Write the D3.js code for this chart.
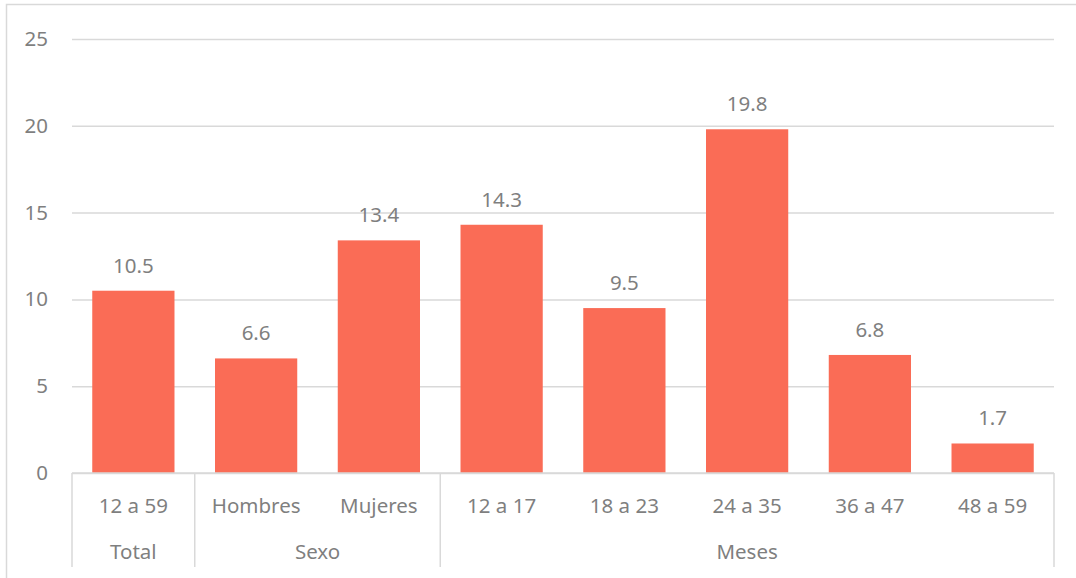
<!DOCTYPE html>
<html>
<head>
<meta charset="utf-8">
<script src="https://cdn.jsdelivr.net/npm/d3@7"></script>
<style>
  body { margin: 0; background: #fff; }
  text { font-family: "Noto Sans", sans-serif; fill: #7f7f7f; }
</style>
</head>
<body>
<div id="chart"></div>
<script>
const categories = ['12 a 59', 'Hombres', 'Mujeres', '12 a 17', '18 a 23', '24 a 35', '36 a 47', '48 a 59'];
const groupOf = ['Total', 'Sexo', 'Sexo', 'Meses', 'Meses', 'Meses', 'Meses', 'Meses'];
const values = [10.5, 6.6, 13.4, 14.3, 9.5, 19.8, 6.8, 1.7];
const yTicks = [0, 5, 10, 15, 20, 25];

const W = 1076, H = 578;
const MARGIN = {TOP: 39, LEFT: 72, RIGHT: 22, BOTTOM: 105};
const innerW = W - MARGIN.LEFT - MARGIN.RIGHT;
const innerH = H - MARGIN.TOP - MARGIN.BOTTOM;
const FS = '20.5px';

const svg = d3.select('#chart').append('svg')
    .attr('width', W).attr('height', H);

// chart frame (clipped at right/bottom in the original)
svg.append('path')
    .attr('d', `M6.5,${H} V4.5 H${W}`)
    .attr('fill', 'none').attr('stroke', '#d9d9d9').attr('stroke-width', 1.5);

const g = svg.append('g').attr('transform', `translate(${MARGIN.LEFT},${MARGIN.TOP})`);

const x = d3.scaleBand().domain(categories).range([0, innerW]).paddingInner(0.33).paddingOuter(0.165);
const y = d3.scaleLinear().domain([0, 25]).range([innerH, 0]);

// gridlines + y labels
const yAxis = g.append('g').call(d3.axisLeft(y).tickValues(yTicks).tickSize(-innerW).tickPadding(24));
yAxis.select('.domain').remove();
yAxis.selectAll('line').attr('stroke', '#d9d9d9').attr('stroke-width', 1.5);
yAxis.selectAll('text').style('font-size', FS).attr('fill', '#7f7f7f');

// bars
const data = categories.map((c, i) => ({cat: c, val: values[i]}));
g.selectAll('rect.bar').data(data).enter().append('rect')
    .attr('class', 'bar')
    .attr('x', d => x(d.cat))
    .attr('y', d => y(d.val))
    .attr('width', x.bandwidth())
    .attr('height', d => innerH - y(d.val))
    .attr('fill', '#fa6c56');

g.selectAll('text.val').data(data).enter().append('text')
    .attr('class', 'val')
    .attr('x', d => x(d.cat) + x.bandwidth() / 2)
    .attr('y', d => y(d.val) - 18)
    .attr('text-anchor', 'middle')
    .style('font-size', FS)
    .text(d => d.val.toFixed(1));

// multi-level category axis
const step = x.step();
const axisG = g.append('g').attr('transform', `translate(0,${innerH})`);
const axisBottomY = 94;

axisG.selectAll('text.cat').data(categories).enter().append('text')
    .attr('class', 'cat')
    .attr('x', d => x(d) + x.bandwidth() / 2)
    .attr('y', 40)
    .attr('text-anchor', 'middle')
    .style('font-size', FS)
    .text(d => d);

// group spans
const groups = [];
groupOf.forEach((grp, i) => {
    const last = groups[groups.length - 1];
    if (last && last.name === grp) last.end = i;
    else groups.push({name: grp, start: i, end: i});
});
const edge = i => i * step;

axisG.selectAll('text.grp').data(groups).enter().append('text')
    .attr('class', 'grp')
    .attr('x', d => (edge(d.start) + edge(d.end + 1)) / 2)
    .attr('y', 86)
    .attr('text-anchor', 'middle')
    .style('font-size', FS)
    .text(d => d.name);

const dividers = [0].concat(groups.map(d => d.end + 1));
axisG.selectAll('line.div').data(dividers).enter().append('line')
    .attr('x1', d => edge(d)).attr('x2', d => edge(d))
    .attr('y1', 0).attr('y2', axisBottomY)
    .attr('stroke', '#d9d9d9').attr('stroke-width', 1.5);

axisG.append('line')
    .attr('x1', 0).attr('x2', innerW).attr('y1', 0).attr('y2', 0)
    .attr('stroke', '#d9d9d9').attr('stroke-width', 1.5);
</script>
</body>
</html>
